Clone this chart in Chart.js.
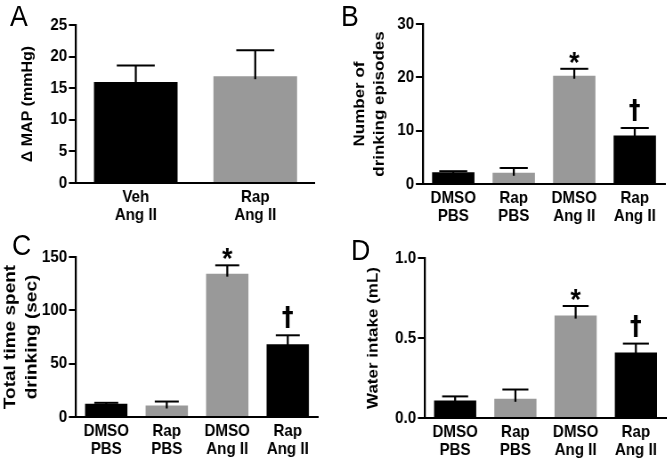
<!DOCTYPE html>
<html>
<head>
<meta charset="utf-8">
<script src="https://cdn.jsdelivr.net/npm/chart.js@4.4.0/dist/chart.umd.min.js"></script>
<style>
  body { margin: 0; background: #fff; }
  #wrap { position: relative; width: 667px; height: 458px; overflow: hidden; background: #fff; }
  .pane { position: absolute; height: 229px; overflow: visible; transform-origin: 0 0; }
  .letter { position: absolute; font-family: "Liberation Sans", Arial, sans-serif; font-size: 30px; line-height: 30px; color: #000; transform: scaleX(0.89); transform-origin: 0 0; }
</style>
</head>
<body>
<div id="wrap">
  <div class="pane" id="pA" style="left:0;top:0"><canvas id="cA"></canvas></div>
  <div class="pane" id="pB" style="left:333px;top:0"><canvas id="cB"></canvas></div>
  <div class="pane" id="pC" style="left:0;top:229px"><canvas id="cC"></canvas></div>
  <div class="pane" id="pD" style="left:333px;top:229px"><canvas id="cD"></canvas></div>
  <div class="letter" style="left:10px;top:1px">A</div>
  <div class="letter" style="left:341px;top:1px">B</div>
  <div class="letter" style="left:12px;top:230px">C</div>
  <div class="letter" style="left:351px;top:235px">D</div>
</div>
<script>
// data (mean + SEM, only upper error bar drawn)
const groupsA = [["Veh", "Ang II"], ["Rap", "Ang II"]];
const meanA = [16.0, 16.9];
const semA = [2.6, 4.1];

const groups4 = [["DMSO", "PBS"], ["Rap", "PBS"], ["DMSO", "Ang II"], ["Rap", "Ang II"]];
const marks4 = ["", "", "*", "\u2020"];

const meanB = [2.2, 2.1, 20.3, 9.1];
const semB = [0.2, 0.9, 1.3, 1.4];

const meanC = [12.4, 10.8, 134.4, 68.2];
const semC = [0.9, 3.7, 7.8, 8.4];

const meanD = [0.11, 0.12, 0.64, 0.41];
const semD = [0.025, 0.058, 0.06, 0.055];

const BLACK = "#000000";
const GREY = "#999999";

// the original figure is a bit narrower than tall, so each canvas is squeezed in x
const SQ = 0.89;

Chart.defaults.font.family = '"Liberation Sans", Arial, sans-serif';
Chart.defaults.color = "#000";

// error bars + significance marks, drawn through the y scale
function errBars(sem, marks, cap) {
  return {
    id: "errBars",
    afterDatasetsDraw(chart) {
      const ctx = chart.ctx;
      const ys = chart.scales.y;
      const vals = chart.data.datasets[0].data;
      const bars = chart.getDatasetMeta(0).data;
      ctx.save();
      ctx.strokeStyle = "#000";
      ctx.fillStyle = "#000";
      bars.forEach((bar, i) => {
        const top = ys.getPixelForValue(vals[i] + sem[i]);
        ctx.lineWidth = 2.25;
        ctx.beginPath();
        ctx.moveTo(bar.x, bar.y + 3);
        ctx.lineTo(bar.x, top);
        ctx.stroke();
        ctx.lineWidth = 2;
        ctx.beginPath();
        ctx.moveTo(bar.x - cap / 2, top);
        ctx.lineTo(bar.x + cap / 2, top);
        ctx.stroke();
        const m = marks ? marks[i] : "";
        ctx.textAlign = "center";
        ctx.textBaseline = "alphabetic";
        if (m === "*") {
          ctx.font = 'bold 30px "Liberation Sans", Arial, sans-serif';
          const mt = ctx.measureText(m);
          const base = top - 11 + (mt.actualBoundingBoxAscent - mt.actualBoundingBoxDescent) / 2;
          ctx.fillText(m, bar.x, base);
        } else if (m) {
          ctx.font = 'bold 26px "DejaVu Sans", sans-serif';
          const mt = ctx.measureText(m);
          ctx.fillText(m, bar.x, top - 6 - mt.actualBoundingBoxDescent);
        }
      });
      ctx.restore();
    }
  };
}

// box: pane size + plot area edges, in page px
function makeChart(id, box, labels, means, sems, colors, marks, yMax, yStep, title, cap, fmt) {
  const cv = document.getElementById(id);
  const pane = cv.parentNode;
  const W = Math.round(box.w / SQ);
  const left = box.left / SQ;
  const right = box.right / SQ;
  pane.style.width = W + "px";
  pane.style.transform = "scaleX(" + SQ + ")";
  cv.width = W;
  cv.height = box.h;
  cv.style.width = W + "px";
  cv.style.height = box.h + "px";
  return new Chart(cv, {
    type: "bar",
    data: {
      labels: labels,
      datasets: [{
        data: means,
        backgroundColor: colors,
        borderWidth: 0,
        barPercentage: 0.7,
        categoryPercentage: 1
      }]
    },
    options: {
      responsive: false,
      animation: false,
      devicePixelRatio: 1,
      layout: { padding: { left: 0, right: W - right, top: box.top, bottom: 0 } },
      plugins: { legend: { display: false }, tooltip: { enabled: false } },
      scales: {
        x: {
          grid: { display: false, drawTicks: false },
          border: { display: true, color: "#000", width: 2 },
          ticks: { font: { size: 17, weight: "bold", lineHeight: 1.08 }, padding: 5, color: "#000", maxRotation: 0 },
          afterFit: (s) => { s.height = box.h - box.bottom; }
        },
        y: {
          min: 0,
          max: yMax,
          grid: { display: true, drawOnChartArea: false, drawTicks: true, tickLength: 8, color: "#000", lineWidth: 2 },
          border: { display: true, color: "#000", width: 2.25 },
          ticks: {
            stepSize: yStep,
            padding: 2,
            color: "#000",
            font: { size: 17, weight: "bold" },
            callback: fmt || ((v) => v)
          },
          title: {
            display: true,
            text: title.text,
            color: "#000",
            font: { size: title.size, weight: "bold", lineHeight: title.lh },
            padding: { top: title.pad, bottom: 0 }
          },
          afterFit: (s) => { s.width = left; }
        }
      }
    },
    plugins: [errBars(sems, marks, cap / SQ)]
  });
}

makeChart("cA", { w: 333, h: 229, left: 76, right: 315, top: 25, bottom: 183 },
  groupsA, meanA, semA, [BLACK, GREY], null, 25, 5,
  { text: "\u0394 MAP (mmHg)", size: 16, lh: 1.2, pad: 22 }, 38);

makeChart("cB", { w: 334, h: 229, left: 90, right: 332, top: 24, bottom: 184 },
  groups4, meanB, semB, [BLACK, GREY, GREY, BLACK], marks4, 30, 10,
  { text: ["Number of", "drinking episodes"], size: 17, lh: 1.29, pad: 19 }, 28);

makeChart("cC", { w: 333, h: 229, left: 76, right: 318, top: 28, bottom: 188 },
  groups4, meanC, semC, [BLACK, GREY, GREY, BLACK], marks4, 150, 50,
  { text: ["Total time spent", "drinking (sec)"], size: 19, lh: 1.24, pad: 0 }, 24);

makeChart("cD", { w: 334, h: 229, left: 92, right: 333, top: 29, bottom: 189 },
  groups4, meanD, semD, [BLACK, GREY, GREY, BLACK], marks4, 1, 0.5,
  { text: "Water intake (mL)", size: 17, lh: 1.2, pad: 35 }, 26, (v) => v.toFixed(1));
</script>
</body>
</html>
